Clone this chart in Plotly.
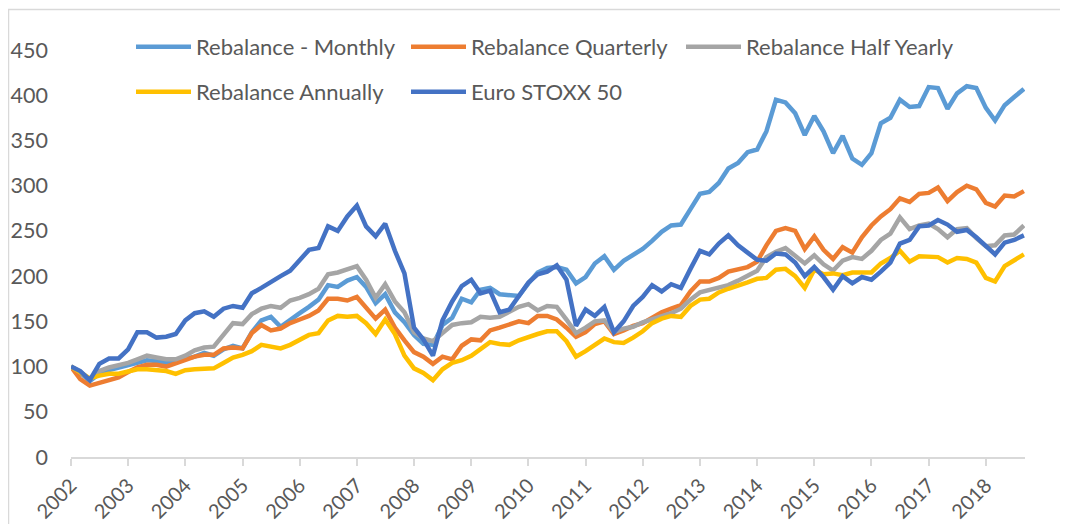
import pandas as pd
import plotly.graph_objects as go

# bi-monthly observation dates, Jan 2002 .. Sep 2018
dates = pd.date_range("2002-01-01", periods=101, freq="2MS")

monthly = [100, 93, 84, 92, 96, 99, 102, 105, 107, 106, 104, 106, 108, 111, 115, 112, 119, 123, 120, 138,
           151, 155, 144, 152, 159, 166, 174, 190, 188, 195, 199, 188, 170, 180, 160, 149, 135, 125, 124, 146,
           154, 175, 171, 185, 187, 180, 179, 178, 192, 204, 209, 210, 207, 192, 199, 214, 222, 207, 217, 224,
           230, 239, 249, 256, 257, 274, 291, 293, 303, 319, 325, 337, 340, 360, 395, 392, 380, 356, 377, 360,
           336, 355, 330, 323, 336, 369, 375, 395, 387, 388, 409, 408, 385, 402, 410, 408, 386, 372, 389, 398, 407]

quarterly = [100, 86, 79, 82, 86, 88, 94, 99, 102, 102, 100, 104, 108, 111, 113, 113, 120, 121, 120, 137,
             146, 140, 142, 148, 152, 156, 162, 175, 175, 173, 177, 165, 153, 163, 143, 129, 116, 111, 103, 111,
             108, 123, 130, 129, 140, 143, 146, 150, 148, 156, 156, 152, 143, 133, 138, 147, 150, 136, 140, 145,
             148, 154, 160, 164, 168, 183, 194, 194, 198, 205, 207, 210, 216, 234, 250, 253, 250, 230, 244, 229,
             219, 232, 226, 243, 256, 266, 274, 286, 282, 291, 292, 298, 283, 293, 300, 296, 281, 277, 289, 288, 294]

half_yearly = [100, 94, 86, 95, 99, 101, 104, 108, 112, 110, 108, 108, 112, 118, 121, 122, 136, 148, 147, 158,
               164, 167, 165, 173, 176, 180, 186, 202, 204, 208, 211, 196, 176, 191, 172, 160, 138, 131, 128, 137,
               146, 148, 149, 155, 154, 155, 160, 166, 169, 162, 167, 166, 152, 137, 143, 150, 151, 138, 142, 144,
               149, 152, 155, 159, 164, 174, 182, 185, 187, 190, 195, 200, 206, 221, 227, 231, 223, 214, 223, 213,
               206, 217, 221, 219, 228, 240, 247, 265, 252, 256, 258, 252, 243, 252, 253, 242, 233, 234, 245, 246, 256]

annually = [100, 94, 87, 90, 92, 92, 95, 97, 97, 96, 95, 92, 96, 97, 97, 98, 104, 110, 113, 117,
            124, 122, 120, 124, 130, 135, 137, 151, 156, 155, 156, 148, 136, 152, 136, 112, 98, 93, 85, 97,
            104, 107, 112, 120, 127, 125, 124, 129, 133, 136, 139, 139, 128, 111, 117, 124, 131, 127, 126, 132,
            139, 148, 153, 156, 155, 167, 174, 175, 182, 186, 189, 193, 197, 198, 207, 208, 200, 187, 207, 202,
            203, 201, 204, 204, 204, 214, 220, 228, 216, 222, 222, 221, 215, 220, 219, 215, 198, 194, 211, 218, 224]

euro_stoxx = [100, 95, 85, 103, 109, 109, 119, 138, 138, 132, 133, 136, 151, 159, 161, 155, 164, 167, 165, 181,
              187, 194, 200, 206, 218, 229, 231, 255, 250, 266, 278, 255, 244, 258, 228, 203, 143, 130, 112, 151,
              172, 189, 196, 181, 184, 160, 163, 178, 193, 202, 205, 212, 196, 145, 163, 156, 166, 138, 150, 167,
              177, 190, 183, 191, 187, 208, 228, 224, 236, 245, 234, 226, 218, 217, 225, 224, 215, 200, 210, 199,
              185, 200, 192, 199, 196, 205, 215, 236, 240, 255, 256, 262, 257, 249, 251, 243, 234, 224, 237, 240, 245]

names = ["Rebalance - Monthly", "Rebalance Quarterly", "Rebalance Half Yearly",
         "Rebalance Annually", "Euro STOXX 50"]
series = [monthly, quarterly, half_yearly, annually, euro_stoxx]
colors = ["#5B9BD5", "#ED7D31", "#A5A5A5", "#FFC000", "#4472C4"]
legend_ids = ["legend", "legend", "legend", "legend2", "legend2"]
y_ticks = list(range(0, 451, 50))

FONT = "Lato, 'Liberation Sans', Arial, sans-serif"
TXT = "#595959"

fig = go.Figure()
for name, vals, col, lg in zip(names, series, colors, legend_ids):
    fig.add_trace(go.Scatter(x=dates, y=vals, name=name, mode="lines",
                             line=dict(color=col, width=4.5, shape="linear"),
                             legend=lg))

# the page body adds an 8px offset, so the figure is sized/placed to compensate
W, H = 1060, 516
L, R, T, B = 63, 43, 42, 67
pw = W - L - R
ph = H - T - B


def px_x(p):
    return (p - L) / pw


def px_y(p):
    return (H - B - p) / ph


legend_common = dict(orientation="h", xanchor="left", yanchor="middle",
                     xref="container", yref="container",
                     bgcolor="rgba(0,0,0,0)", font=dict(family=FONT, size=22, color=TXT),
                     itemwidth=55, entrywidthmode="pixels", entrywidth=205,
                     traceorder="normal", itemclick=False, itemdoubleclick=False)

fig.update_layout(
    width=W, height=H,
    margin=dict(l=L, r=R, t=T, b=B, autoexpand=False),
    paper_bgcolor="white", plot_bgcolor="white",
    font=dict(family=FONT, size=21.5, color=TXT),
    legend=dict(x=123 / W, y=1 - 39 / H, **legend_common),
    legend2=dict(x=123 / W, y=1 - 84 / H, **legend_common),
    xaxis=dict(type="date", range=["2002-01-01", "2018-09-08"],
               tick0="2002-01-01", dtick="M12", tickformat="%Y", tickangle=-45,
               showline=True, linecolor="#D9D9D9", linewidth=2,
               ticks="outside", ticklen=7, tickcolor="#D9D9D9", tickwidth=2,
               showgrid=False, zeroline=False, automargin=False,
               tickfont=dict(family=FONT, size=20, color=TXT)),
    yaxis=dict(range=[0, 450], tickvals=y_ticks, showline=False, showgrid=False,
               zeroline=False, ticks="", ticklabelstandoff=22, automargin=False,
               tickfont=dict(family=FONT, size=21.5, color=TXT)),
    shapes=[dict(type="rect", xref="paper", yref="paper",
                 x0=px_x(0.5), x1=px_x(1080), y0=px_y(540), y1=px_y(1.5),
                 line=dict(color="#D9D9D9", width=1.5), fillcolor="rgba(0,0,0,0)",
                 layer="below")],
)

fig.write_html("out.html")
